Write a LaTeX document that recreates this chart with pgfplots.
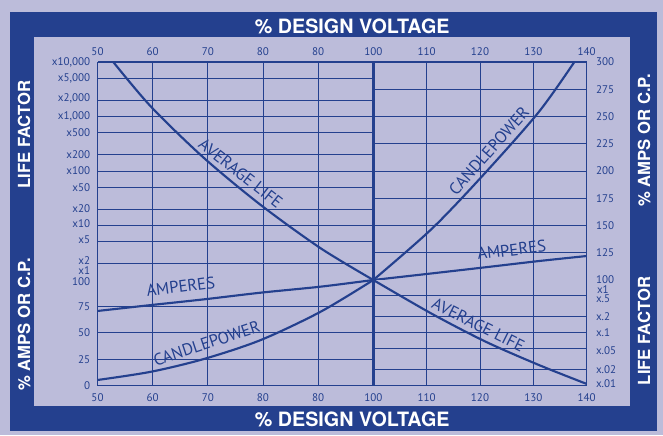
\documentclass[border=0pt]{standalone}
\usepackage{pgfplots}
\pgfplotsset{compat=1.18}
\usepackage{fontspec}
\setmainfont{PT Sans}
\newfontfamily\titlefont{TeX Gyre Heros}
\definecolor{navy}{RGB}{36,64,142}
\definecolor{lav}{RGB}{188,188,218}
\newcommand{\lift}[2]{\raisebox{#1}[\height][\depth]{#2}}
\pgfplotsset{
  quad/.style={
    scale only axis, clip mode=individual,
    separate axis lines,
    axis line style={navy, line width=0.85pt},
    major tick length=0pt, tick style={draw=none},
    grid=major, grid style={navy, line width=0.7pt},
    tick label style={font=\fontsize{8.3}{10}\selectfont, text=navy, inner sep=0pt},
  },
  curve/.style={navy, line width=1.6pt, smooth, no markers},
  lefty/.style={axis y line*=left, yticklabel pos=left, yticklabel style={anchor=east, xshift=-5.3pt}},
  righty/.style={axis y line*=right, yticklabel pos=right, yticklabel style={anchor=west, xshift=6.8pt}},
  topx/.style={axis x line*=top, xticklabel pos=upper, xticklabel style={anchor=south, yshift=4.5pt}},
  botx/.style={axis x line*=bottom, xticklabel pos=lower, xticklabel style={anchor=north, yshift=-5.7pt}},
}
\begin{document}
\begin{tikzpicture}[x=0.75pt,y=0.75pt]
\fill[lav] (0,0) rectangle (663,435);
\fill[navy] (10,4) rectangle (657,423);
\fill[lav] (34,29) rectangle (630,398);

% top left: life factor, 50-100
\begin{axis}[quad, lefty, topx, at={(73.125pt,116.25pt)}, anchor=south west,
  width=206.85pt, height=163.5pt,
  xmin=50, xmax=100, ymode=log, ymin=1, ymax=10000,
  xtick={50,60,70,80,90,100}, xticklabels={50,60,70,80,80,100},
  ytick={2,5,10,20,50,100,200,500,1000,2000,5000,10000},
  yticklabels={\lift{2.2pt}{x2},\lift{1.5pt}{x5},\lift{1.5pt}{x10},x20,x50,x100,x200,x500,{x1,000},{\lift{1.5pt}{x2,000}},{x5,000},{x10,000}},
  extra y ticks={1}, extra y tick labels={x1},
  extra y tick style={grid=none, yticklabel style={yshift=6.8pt}}]
\addplot[curve] coordinates {(52.86,10000) (59.70,1513) (69.31,173) (79.59,23.8) (90.46,3.82) (100,1)};
\draw[navy, line width=2.1pt] (axis cs:100,1) -- (axis cs:100,10000);
\end{axis}

% bottom left: amps / cp, 50-100
\begin{axis}[quad, lefty, botx, at={(73.125pt,36.975pt)}, anchor=south west,
  width=206.85pt, height=79.275pt,
  xmin=50, xmax=100, ymin=0, ymax=100,
  xtick={50,60,70,80,90,100}, xticklabels={50,60,70,80,80,100},
  ytick={0,25,50,75}, yticklabels={0,25,50,75},
  extra y ticks={100}, extra y tick labels={100},
  extra y tick style={grid=none, yticklabel style={yshift=-1.5pt}}]
\addplot[curve] coordinates {(50,70.7) (59.70,76.3) (69.31,81.7) (79.59,88.0) (90.46,93.7) (100,100)};
\addplot[curve] coordinates {(50,5.4) (59.70,13.2) (69.31,25.3) (79.59,43.2) (90.46,70.0) (100,100)};
\draw[navy, line width=2.1pt] (axis cs:100,0) -- (axis cs:100,100);
\end{axis}

% top right: amps / cp, 100-140
\begin{axis}[quad, righty, topx, at={(279.975pt,116.25pt)}, anchor=south west,
  width=160.05pt, height=163.5pt,
  xmin=100, xmax=140, ymin=100, ymax=300,
  xtick={110,120,130,140}, xticklabels={110,120,130,140},
  ytick={125,150,175,200,225,250,275,300},
  yticklabels={125,150,175,200,225,250,275,300},
  extra y ticks={100}, extra y tick labels={100},
  extra y tick style={grid=none}]
\addplot[curve] coordinates {(100,100) (111.06,147.4) (121.07,198.8) (131.06,254.4) (137.68,300)};
\addplot[curve] coordinates {(100,100) (111.06,106.1) (121.07,111.7) (131.06,117.4) (140,122.0)};
\end{axis}

% bottom right: life factor, 100-140
\begin{axis}[quad, righty, botx, at={(279.975pt,36.975pt)}, anchor=south west,
  width=160.05pt, height=79.275pt,
  xmin=100, xmax=140, ymode=log, ymin=0.01, ymax=1,
  xtick={110,120,130,140}, xticklabels={110,120,130,140},
  ytick={0.01,0.02,0.05,0.1,0.2,0.5},
  yticklabels={\lift{1.5pt}{x.01},x.02,\lift{-1.5pt}{x.05},x.1,x.2,\lift{-1.8pt}{x.5}},
  extra y ticks={1}, extra y tick labels={x1},
  extra y tick style={grid=none, yticklabel style={yshift=-6.8pt, xshift=0.75pt}}]
\addplot[curve] coordinates {(100,1) (111.06,0.227) (121.07,0.068) (131.06,0.0246) (140,0.0108)};
\end{axis}

% titles
\begin{scope}[every node/.style={text=white, font=\titlefont\bfseries\fontsize{14.8}{16}\selectfont, inner sep=0pt}]
\node at (352.2,409) {\% DESIGN VOLTAGE};
\node at (352.2,16) {\% DESIGN VOLTAGE};
\end{scope}
\begin{scope}[every node/.style={text=white, font=\titlefont\bfseries\fontsize{12.5}{14}\selectfont, inner sep=0pt, rotate=90}]
\node at (24,300.5) {LIFE FACTOR};
\node at (24,110.5) {\% AMPS OR C.P.};
\node at (644,294.5) {\% AMPS OR C.P.};
\node at (644,104) {LIFE FACTOR};
\end{scope}

% curve labels
\begin{scope}[every node/.style={text=navy, font=\fontsize{12.5}{14}\selectfont, inner sep=0pt}]
\node[rotate=-38] at (240.8,261.7) {AVERAGE LIFE};
\node[rotate=7.5] at (180.7,148.3) {AMPERES};
\node[rotate=18.4] at (206.7,91.7) {CANDLEPOWER};
\node[rotate=48.4] at (489,284) {CANDLEPOWER};
\node[rotate=7] at (511.7,185) {AMPERES};
\node[rotate=-26.6] at (478.3,110) {AVERAGE LIFE};
\end{scope}
\end{tikzpicture}
\end{document}
